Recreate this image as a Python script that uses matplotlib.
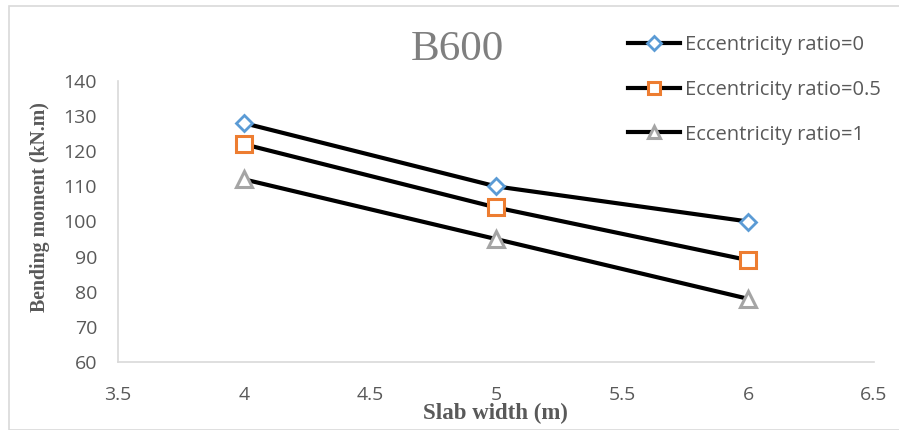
import matplotlib
matplotlib.use("Agg")
import matplotlib.pyplot as plt
from matplotlib.patches import Rectangle

x_vals = [4, 5, 6]
ecc0 = [128, 110, 100]
ecc05 = [122, 104, 89]
ecc1 = [112, 95, 78]
labels = ["Eccentricity ratio=0", "Eccentricity ratio=0.5", "Eccentricity ratio=1"]
x_ticks = [3.5, 4, 4.5, 5, 5.5, 6, 6.5]
x_ticklabels = ["3.5", "4", "4.5", "5", "5.5", "6", "6.5"]
y_ticks = [60, 70, 80, 90, 100, 110, 120, 130, 140]

W, H = 899, 430
fig = plt.figure(figsize=(W / 100, H / 100), dpi=100)
fig.patch.set_facecolor("white")
fig.patches.append(Rectangle((9 / W, 0), 1.2, 1 - 6 / H, transform=fig.transFigure,
                             fill=False, edgecolor="#d9d9d9", linewidth=1.2))

ax = fig.add_axes([118 / W, 1 - 362 / H, (874 - 118) / W, (362 - 81) / H])
tick_font = "Open Sans"
gray = "#595959"

styles = [
    dict(marker="D", ms=8.5, mec="#5b9bd5", mew=2.0),
    dict(marker="s", ms=11, mec="#ed7d31", mew=2.2),
    dict(marker="^", ms=11, mec="#a5a5a5", mew=2.2),
]
for ys, st, lab in zip([ecc0, ecc05, ecc1], styles, labels):
    ax.plot(x_vals, ys, color="black", lw=3, mfc="white", label=lab, **st)

ax.set_xlim(3.5, 6.5)
ax.set_ylim(60, 140)
ax.set_xticks(x_ticks)
ax.set_xticklabels(x_ticklabels)
ax.set_yticks(y_ticks)
for s in ["top", "right"]:
    ax.spines[s].set_visible(False)
ax.spines["left"].set_color("#d9d9d9")
ax.spines["bottom"].set_color("#d9d9d9")
ax.spines["left"].set_linewidth(1.2)
ax.spines["bottom"].set_linewidth(1.2)
ax.tick_params(length=0, labelsize=14, labelcolor=gray)
ax.tick_params(axis="y", pad=15)
ax.tick_params(axis="x", pad=17)
for t in ax.get_xticklabels() + ax.get_yticklabels():
    t.set_fontfamily(tick_font)

ax.set_xlabel("Slab width (m)", fontfamily="Liberation Serif", fontweight="bold",
              fontsize=16.5, color=gray)
ax.xaxis.set_label_coords(0.4987, -0.147)
ax.set_ylabel("Bending moment (kN.m)", fontfamily="Liberation Serif", fontweight="bold",
              fontsize=14.3, color=gray)
ax.yaxis.set_label_coords(-0.09, 0.552)

fig.text(457 / W, 1 - 50 / H, "B600", fontfamily="Liberation Serif", fontsize=31,
         color="#7f7f7f", ha="center", va="center")

leg = fig.legend(loc="upper left", bbox_to_anchor=(628 / W, 1 - 35 / H), frameon=False,
                 prop={"family": tick_font, "size": 14.5}, labelspacing=1.23,
                 handlelength=2.6, handletextpad=0.25, borderaxespad=0, borderpad=0)
for t in leg.get_texts():
    t.set_color(gray)
for h in leg.legend_handles:
    h.set_markersize(h.get_markersize() * 0.85)

fig.savefig("out.png", dpi=100)
